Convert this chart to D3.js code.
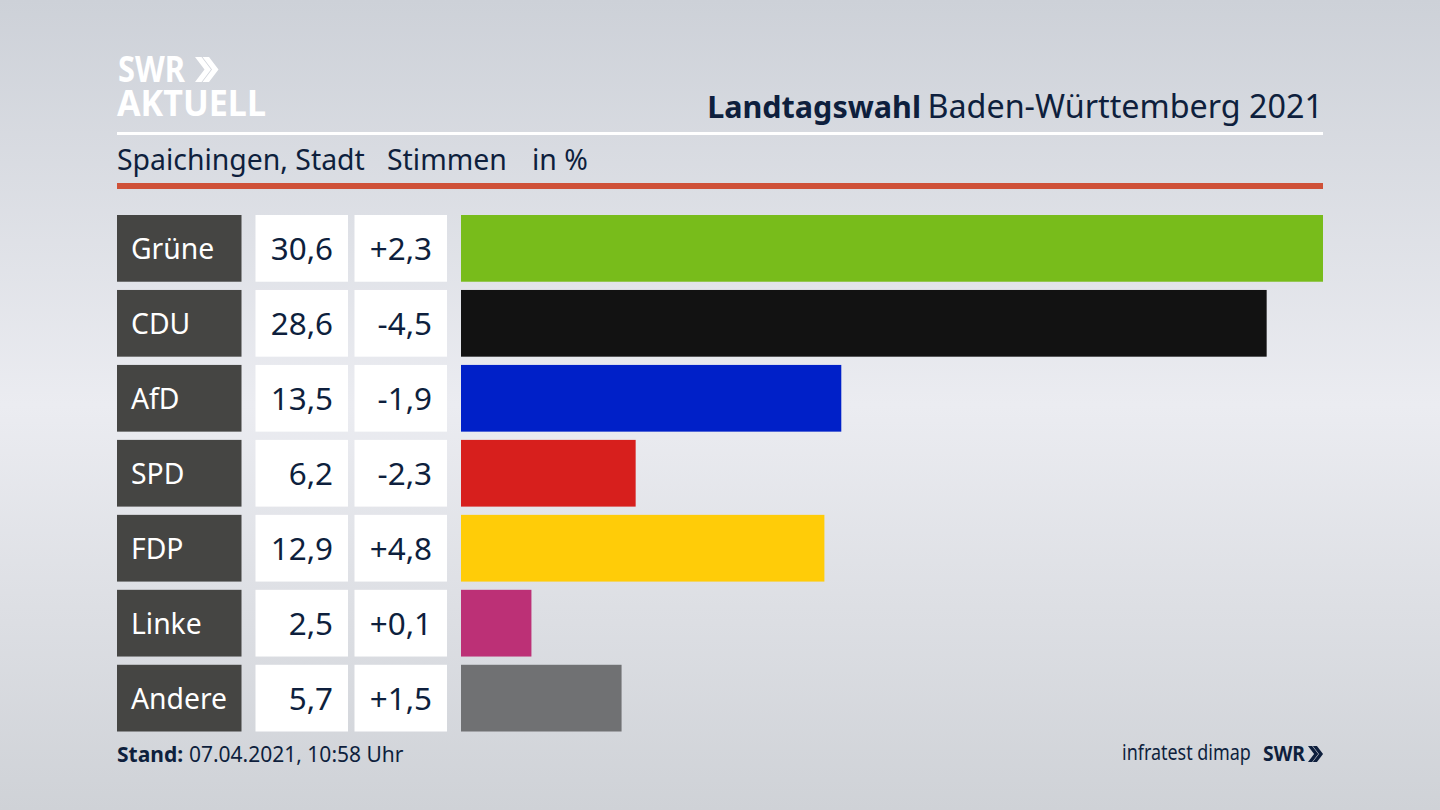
<!DOCTYPE html>
<html>
<head>
<meta charset="utf-8">
<script src="https://cdn.jsdelivr.net/npm/d3@7"></script>
<style>
html, body { margin: 0; padding: 0; background: #d5d7dd; }
text { font-family: "Noto Sans", sans-serif; }
</style>
</head>
<body>
<div id="container"></div>
<script>
var parties = ['Grüne', 'CDU', 'AfD', 'SPD', 'FDP', 'Linke', 'Andere'];
var shares = [30.6, 28.6, 13.5, 6.2, 12.9, 2.5, 5.7];
var changes = ['+2,3', '-4,5', '-1,9', '-2,3', '+4,8', '+0,1', '+1,5'];
var colors = ['#78bc1b', '#121212', '#0020c8', '#d71f1d', '#ffcc08', '#bc3076', '#707173'];

var width = 1440,
    height = 810,
    navy = '#0e1f3d';

var svg = d3.select('div#container')
    .append('svg')
    .attr('width', width)
    .attr('height', height)
    .style('display', 'block');

// background, lighter band through the middle
var glow = svg.append('defs').append('linearGradient')
    .attr('id', 'glow')
    .attr('x1', 0).attr('y1', 0)
    .attr('x2', 0).attr('y2', 1);
glow.append('stop').attr('offset', '0%').attr('stop-color', '#cdd1d8');
glow.append('stop').attr('offset', '50%').attr('stop-color', '#ebecf1');
glow.append('stop').attr('offset', '100%').attr('stop-color', '#cfd2d7');

svg.append('rect')
    .attr('width', width)
    .attr('height', height)
    .attr('fill', 'url(#glow)');

var y = d3.scaleBand()
    .domain(parties)
    .range([215, 731.5])
    .paddingInner(0.11);

var x = d3.scaleLinear()
    .domain([0, 30.6])
    .range([461, 1323]);

// double chevron from the SWR logo
function chevrons(g, px, py, h, color) {
    var w = h * 0.38, t = h * 0.26;
    [0, 1].forEach(function(i) {
        var o = px + i * h * 0.3;
        g.append('path')
            .attr('d', 'M' + o + ',' + py + 'h' + t + 'l' + w + ',' + (h / 2) +
                'l' + (-w) + ',' + (h / 2) + 'h' + (-t) + 'l' + w + ',' + (-h / 2) + 'z')
            .attr('fill', color);
    });
}

// header
var logo = svg.append('g');
logo.append('text')
    .attr('x', 118).attr('y', 82)
    .attr('font-size', 35).attr('font-weight', 700)
    .attr('fill', '#fff')
    .attr('textLength', 67)
    .attr('lengthAdjust', 'spacingAndGlyphs')
    .text('SWR');
chevrons(logo, 195, 57, 25, '#fff');
logo.append('text')
    .attr('x', 117).attr('y', 116)
    .attr('font-size', 35).attr('font-weight', 700)
    .attr('fill', '#fff')
    .attr('textLength', 149)
    .attr('lengthAdjust', 'spacingAndGlyphs')
    .text('AKTUELL');

svg.append('text')
    .attr('x', 921).attr('y', 118)
    .attr('text-anchor', 'end')
    .attr('font-size', 30.5).attr('font-weight', 700)
    .attr('fill', navy)
    .text('Landtagswahl');

svg.append('text')
    .attr('x', 1323).attr('y', 118)
    .attr('text-anchor', 'end')
    .attr('font-size', 32.3)
    .attr('fill', navy)
    .text('Baden-Württemberg 2021');

svg.append('rect')
    .attr('x', 117).attr('y', 132)
    .attr('width', 1206).attr('height', 3)
    .attr('fill', '#fff');

svg.selectAll('text.sub')
    .data([['Spaichingen, Stadt', 117], ['Stimmen', 387], ['in %', 532]])
    .enter().append('text')
    .attr('class', 'sub')
    .attr('x', function(d) { return d[1]; })
    .attr('y', 170)
    .attr('font-size', 28.4)
    .attr('fill', navy)
    .text(function(d) { return d[0]; });

svg.append('rect')
    .attr('x', 117).attr('y', 183)
    .attr('width', 1206).attr('height', 6)
    .attr('fill', '#cf5138');

// rows
var row = svg.selectAll('g.row')
    .data(parties)
    .enter().append('g')
    .attr('class', 'row')
    .attr('transform', function(d) { return 'translate(0,' + y(d) + ')'; });

row.append('rect')
    .attr('x', 117)
    .attr('width', 124.5)
    .attr('height', y.bandwidth())
    .attr('fill', '#454543');

row.append('text')
    .attr('x', 131)
    .attr('y', y.bandwidth() / 2 + 10.5)
    .attr('font-size', 28.3)
    .attr('fill', '#fff')
    .text(function(d) { return d; });

row.append('rect')
    .attr('x', 255.5)
    .attr('width', 92.5)
    .attr('height', y.bandwidth())
    .attr('fill', '#fff');

row.append('text')
    .attr('x', 333)
    .attr('y', y.bandwidth() / 2 + 11.5)
    .attr('text-anchor', 'end')
    .attr('font-size', 31.4)
    .attr('fill', navy)
    .text(function(d, i) { return shares[i].toFixed(1).replace('.', ','); });

row.append('rect')
    .attr('x', 354.5)
    .attr('width', 92.5)
    .attr('height', y.bandwidth())
    .attr('fill', '#fff');

row.append('text')
    .attr('x', 432)
    .attr('y', y.bandwidth() / 2 + 11.5)
    .attr('text-anchor', 'end')
    .attr('font-size', 31.4)
    .attr('fill', navy)
    .text(function(d, i) { return changes[i]; });

row.append('rect')
    .attr('x', x(0))
    .attr('width', function(d, i) { return x(shares[i]) - x(0); })
    .attr('height', y.bandwidth())
    .attr('fill', function(d, i) { return colors[i]; });

// footer
svg.append('text')
    .attr('x', 117).attr('y', 762)
    .attr('font-size', 21).attr('font-weight', 700)
    .attr('fill', navy)
    .text('Stand:');

svg.append('text')
    .attr('x', 403.5).attr('y', 762)
    .attr('text-anchor', 'end')
    .attr('font-size', 21)
    .attr('fill', navy)
    .text('07.04.2021, 10:58 Uhr');

// squeezed with a transform, the type in the reference is narrower
svg.append('text')
    .attr('transform', 'translate(1122,760) scale(0.855,1)')
    .attr('font-size', 21)
    .attr('fill', navy)
    .text('infratest dimap');

svg.append('text')
    .attr('x', 1263).attr('y', 761)
    .attr('font-size', 21).attr('font-weight', 700)
    .attr('fill', navy)
    .attr('textLength', 42)
    .attr('lengthAdjust', 'spacingAndGlyphs')
    .text('SWR');
chevrons(svg.append('g'), 1308, 746, 16, navy);
</script>
</body>
</html>
